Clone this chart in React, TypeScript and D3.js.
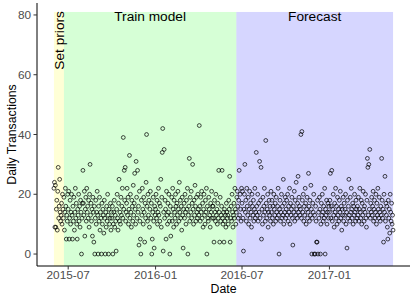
import React from "react";
import * as d3 from "d3";

// daily transactions, one value per day, grouped by month
const monthStarts = [
  "2015-06-01", "2015-07-01", "2015-08-01", "2015-09-01", "2015-10-01", "2015-11-01",
  "2015-12-01", "2016-01-01", "2016-02-01", "2016-03-01", "2016-04-01", "2016-05-01",
  "2016-06-01", "2016-07-01", "2016-08-01", "2016-09-01", "2016-10-01", "2016-11-01",
  "2016-12-01", "2017-01-01", "2017-02-01", "2017-03-01", "2017-04-01", "2017-05-01",
];

const jun2015 = [22, 24, 9, 23, 9, 15, 18, 8, 21, 29, 12, 16, 25, 14, 11, 13, 17, 10, 20, 15, 12, 19, 8, 14, 22, 16, 5, 13, 11, 20];
const jul2015 = [15, 21, 5, 12, 18, 10, 14, 20, 13, 5, 16, 11, 19, 8, 14, 22, 12, 17, 10, 5, 15, 13, 20, 11, 16, 9, 18, 14, 0, 12, 17];
const aug2015 = [28, 17, 13, 21, 6, 15, 19, 11, 22, 14, 16, 12, 18, 9, 20, 30, 13, 17, 11, 15, 6, 19, 14, 4, 16, 0, 12, 18, 10, 14, 21];
const sep2015 = [13, 0, 16, 11, 19, 8, 14, 12, 0, 17, 10, 15, 13, 7, 18, 12, 0, 14, 9, 16, 11, 20, 13, 0, 15, 10, 12, 17, 8, 14];
const oct2015 = [12, 16, 0, 10, 14, 18, 9, 13, 11, 1, 15, 20, 12, 8, 17, 25, 11, 14, 10, 19, 13, 16, 22, 12, 39, 15, 28, 18, 29, 11, 14];
const nov2015 = [17, 22, 13, 19, 10, 15, 33, 12, 20, 14, 9, 18, 16, 11, 23, 13, 17, 27, 15, 10, 31, 19, 12, 28, 14, 16, 3, 21, 11, 5];
const dec2015 = [0, 18, 13, 22, 15, 10, 19, 14, 4, 17, 12, 24, 40, 16, 11, 20, 13, 18, 9, 15, 21, 12, 17, 0, 5, 14, 19, 11, 2, 16, 13];
const jan2016 = [15, 20, 12, 18, 10, 14, 22, 13, 17, 11, 16, 25, 9, 19, 34, 42, 1, 14, 35, 12, 18, 15, 5, 21, 13, 10, 17, 14, 20, 11, 0];
const feb2016 = [16, 6, 13, 19, 11, 22, 15, 9, 18, 14, 12, 20, 16, 10, 17, 13, 21, 15, 11, 24, 14, 18, 12, 16, 8, 19, 13, 2, 15];
const mar2016 = [17, 12, 20, 14, 10, 18, 15, 22, 0, 13, 16, 32, 11, 19, 14, 21, 12, 17, 30, 15, 10, 18, 13, 23, 16, 11, 19, 14, 12, 20, 15];
const apr2016 = [13, 43, 16, 11, 19, 14, 21, 12, 17, 9, 15, 20, 13, 10, 18, 14, 22, 0, 16, 12, 11, 19, 15, 13, 9, 17, 14, 21, 12, 16];
const may2016 = [16, 12, 4, 18, 14, 11, 20, 13, 15, 10, 17, 12, 28, 14, 4, 19, 11, 13, 16, 28, 12, 10, 14, 4, 15, 11, 13, 9, 17, 14, 12];
const jun2016 = [13, 10, 18, 15, 26, 4, 12, 16, 11, 20, 14, 9, 13, 17, 12, 22, 15, 10, 14, 19, 21, 16, 12, 18, 28, 13, 20, 15, 11, 22];
const jul2016 = [17, 21, 12, 1, 15, 20, 30, 14, 18, 11, 22, 16, 13, 19, 10, 15, 21, 12, 17, 14, 9, 20, 16, 13, 18, 11, 15, 22, 12, 14, 34];
const aug2016 = [16, 13, 20, 11, 17, 14, 31, 12, 18, 29, 5, 15, 10, 19, 13, 16, 22, 14, 11, 38, 17, 12, 15, 20, 9, 14, 18, 13, 16, 11, 21];
const sep2016 = [14, 18, 12, 16, 10, 20, 15, 13, 17, 11, 19, 14, 12, 16, 22, 13, 0, 15, 18, 11, 14, 20, 12, 16, 13, 25, 10, 17, 14, 19];
const oct2016 = [12, 15, 18, 13, 20, 11, 16, 14, 22, 10, 17, 13, 15, 19, 12, 3, 16, 14, 21, 11, 18, 13, 24, 15, 12, 17, 26, 14, 19, 16, 13];
const nov2016 = [15, 40, 12, 41, 18, 14, 20, 11, 16, 13, 22, 17, 10, 15, 19, 12, 14, 27, 16, 11, 18, 13, 23, 15, 0, 12, 17, 14, 20, 0];
const dec2016 = [13, 0, 16, 11, 4, 4, 18, 0, 14, 12, 19, 15, 0, 10, 17, 13, 20, 14, 11, 16, 12, 22, 0, 15, 13, 18, 10, 14, 17, 12, 16];
const jan2017 = [14, 18, 27, 12, 16, 28, 11, 15, 20, 13, 9, 17, 14, 22, 12, 16, 10, 19, 13, 15, 11, 18, 14, 21, 12, 16, 8, 15, 13, 19, 11];
const feb2017 = [17, 13, 15, 20, 10, 14, 2, 18, 12, 16, 25, 13, 11, 19, 14, 22, 15, 12, 17, 10, 16, 13, 20, 14, 11, 18, 15, 12];
const mar2017 = [16, 13, 19, 11, 15, 22, 14, 12, 18, 10, 17, 13, 21, 15, 11, 16, 14, 20, 12, 9, 18, 32, 29, 13, 30, 15, 35, 12, 17, 14, 19];
const apr2017 = [13, 16, 21, 11, 15, 18, 12, 14, 20, 10, 17, 13, 22, 15, 12, 19, 14, 11, 16, 13, 32, 18, 12, 15, 4, 20, 14, 26, 11, 17];
const may2017 = [13, 16, 9, 5, 18, 12, 15, 7, 20, 14, 11, 17, 10, 13, 8];

const monthValues = [
  jun2015, jul2015, aug2015, sep2015, oct2015, nov2015, dec2015,
  jan2016, feb2016, mar2016, apr2016, may2016, jun2016, jul2016, aug2016, sep2016, oct2016, nov2016, dec2016,
  jan2017, feb2017, mar2017, apr2017, may2017,
];

// shaded phases
const phaseLabels = ["Set priors", "Train model", "Forecast"];
const phaseStarts = ["2015-06-01", "2015-06-22", "2016-06-19"];
const phaseEnds = ["2015-06-22", "2016-06-19", "2017-05-15"];
const phaseFills = ["#ffff00", "#00ff00", "#0000ff"];

const xTickLabels = ["2015-07", "2016-01", "2016-07", "2017-01"];
const yTicks = [0, 20, 40, 60, 80];

const W = 415;
const H = 297;
const font = "'Liberation Sans', Arial, Helvetica, sans-serif";

const parseDay = d3.utcParse("%Y-%m-%d");
const parseMonth = d3.utcParse("%Y-%m");

export default function App() {
  const points = monthValues.flatMap((vals, m) => {
    const start = parseDay(monthStarts[m]) as Date;
    return vals.map((v, i) => ({ date: d3.utcDay.offset(start, i), value: v }));
  });

  const [d0, d1] = d3.extent(points, (d) => d.date) as [Date, Date];
  const pad = (d1.getTime() - d0.getTime()) * 0.05;

  const x = d3
    .scaleUtc()
    .domain([new Date(d0.getTime() - pad), new Date(d1.getTime() + pad)])
    .range([37, 410]);
  const y = d3.scaleLinear().domain([-4, 84]).range([266, 3]);

  const panelTop = y(84);
  const panelBottom = y(-4);

  return (
    <svg
      width={W}
      height={H}
      style={{ position: "absolute", left: 0, top: 0, background: "#fff" }}
      fontFamily={font}
    >
      {/* phase backgrounds */}
      {phaseLabels.map((p, i) => {
        const xa = x(parseDay(phaseStarts[i]) as Date);
        const xb = x(parseDay(phaseEnds[i]) as Date);
        return (
          <rect
            key={p}
            x={xa}
            y={y(81)}
            width={xb - xa}
            height={panelBottom - y(81)}
            fill={phaseFills[i]}
            fillOpacity={0.16}
          />
        );
      })}

      {/* phase labels */}
      {phaseLabels.map((p, i) => {
        const xa = x(parseDay(phaseStarts[i]) as Date);
        const xb = x(parseDay(phaseEnds[i]) as Date);
        const cx = (xa + xb) / 2;
        if (i === 0) {
          return (
            <text
              key={p}
              transform={`translate(${cx},${y(81.3)}) rotate(-90)`}
              dy="0.36em"
              textAnchor="end"
              fontSize={13.7}
              fill="#000"
            >
              {p}
            </text>
          );
        }
        return (
          <text key={p} x={cx} y={y(78)} textAnchor="middle" fontSize={13.7} fill="#000">
            {p}
          </text>
        );
      })}

      {/* points */}
      {points.map((d, i) => (
        <circle
          key={i}
          cx={x(d.date)}
          cy={y(d.value)}
          r={1.9}
          fill="none"
          stroke="#000"
          strokeOpacity={0.8}
          strokeWidth={0.9}
        />
      ))}

      {/* y axis */}
      <line x1={37} x2={37} y1={panelTop} y2={panelBottom} stroke="#000" strokeWidth={1} />
      {yTicks.map((t) => (
        <g key={t} transform={`translate(0,${y(t)})`}>
          <line x1={33.5} x2={37} stroke="#333" strokeWidth={1} />
          <text x={31} dy="0.35em" textAnchor="end" fontSize={11.8} fill="#4d4d4d">
            {t}
          </text>
        </g>
      ))}

      {/* x axis */}
      <line x1={37} x2={410} y1={panelBottom} y2={panelBottom} stroke="#000" strokeWidth={1} />
      {xTickLabels.map((t) => {
        const px = x(parseMonth(t) as Date);
        return (
          <g key={t} transform={`translate(${px},0)`}>
            <line y1={panelBottom} y2={panelBottom + 3.5} stroke="#333" strokeWidth={1} />
            <text y={278.5} textAnchor="middle" fontSize={11.8} fill="#4d4d4d">
              {t}
            </text>
          </g>
        );
      })}

      {/* axis titles */}
      <text x={(37 + 410) / 2} y={293} textAnchor="middle" fontSize={12.3} fill="#000">
        Date
      </text>
      <text
        transform={`translate(15.5,${(panelTop + panelBottom) / 2}) rotate(-90)`}
        textAnchor="middle"
        fontSize={12.3}
        fill="#000"
      >
        Daily Transactions
      </text>
    </svg>
  );
}
